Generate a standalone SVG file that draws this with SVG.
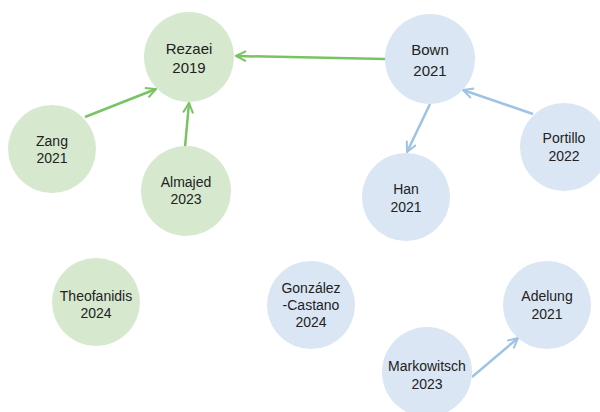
<svg xmlns="http://www.w3.org/2000/svg" width="600" height="412" viewBox="0 0 600 412">
<defs>
<style>
.g{fill:#d6e9cf}
.b{fill:#dae6f3}
text{font-family:"Liberation Sans",Arial,sans-serif;font-size:14px;fill:#222;text-anchor:middle;dominant-baseline:central}
.big{font-size:15px}
.eg{stroke:#79c462;stroke-width:2.5;fill:none}
.eb{stroke:#9ec3e5;stroke-width:2.5;fill:none}
</style>
<marker id="ag" viewBox="0 0 12 12" refX="11" refY="6" markerWidth="12" markerHeight="12" markerUnits="userSpaceOnUse" orient="auto">
<polyline points="1,1 11,6 1,11" fill="none" stroke="#79c462" stroke-width="2"/>
</marker>
<marker id="ab" viewBox="0 0 12 12" refX="11" refY="6" markerWidth="12" markerHeight="12" markerUnits="userSpaceOnUse" orient="auto">
<polyline points="1,1 11,6 1,11" fill="none" stroke="#9ec3e5" stroke-width="2"/>
</marker>
</defs>
<rect width="600" height="412" fill="#fff"/>
<g id="connectors">
<line class="eg" x1="385" y1="59" x2="236" y2="56" marker-end="url(#ag)"/>
<line class="eg" x1="85" y1="117" x2="156" y2="89" marker-end="url(#ag)"/>
<line class="eg" x1="185" y1="147" x2="189" y2="103" marker-end="url(#ag)"/>
<line class="eb" x1="430" y1="104" x2="407" y2="152" marker-end="url(#ab)"/>
<line class="eb" x1="533" y1="114" x2="463" y2="90" marker-end="url(#ab)"/>
<line class="eb" x1="472" y1="377" x2="518" y2="338" marker-end="url(#ab)"/>
</g>
<g id="rezaei"><circle class="g" cx="189" cy="57" r="45"/><text class="big" x="189" y="48">Rezaei</text><text class="big" x="189" y="67">2019</text></g>
<g id="bown"><circle class="b" cx="430" cy="59" r="45"/><text class="big" x="430" y="49">Bown</text><text class="big" x="430" y="70">2021</text></g>
<g id="zang"><circle class="g" cx="52" cy="149" r="44"/><text x="52" y="141">Zang</text><text x="52" y="158">2021</text></g>
<g id="almajed"><circle class="g" cx="186" cy="191" r="45"/><text x="186" y="182">Almajed</text><text x="186" y="199">2023</text></g>
<g id="han"><circle class="b" cx="406" cy="197" r="44"/><text x="406" y="189">Han</text><text x="406" y="207">2021</text></g>
<g id="portillo"><circle class="b" cx="564" cy="147" r="44"/><text x="564" y="138">Portillo</text><text x="564" y="156">2022</text></g>
<g id="theofanidis"><circle class="g" cx="96" cy="302" r="44"/><text x="96" y="296">Theofanidis</text><text x="96" y="313">2024</text></g>
<g id="gonzalez"><circle class="b" cx="311" cy="305" r="44"/><text x="311" y="288">González</text><text x="311" y="305">-Castano</text><text x="311" y="322">2024</text></g>
<g id="adelung"><circle class="b" cx="547" cy="305" r="44"/><text x="547" y="296">Adelung</text><text x="547" y="314">2021</text></g>
<g id="markowitsch"><circle class="b" cx="427" cy="372" r="45"/><text x="427" y="366">Markowitsch</text><text x="427" y="384">2023</text></g>
</svg>
